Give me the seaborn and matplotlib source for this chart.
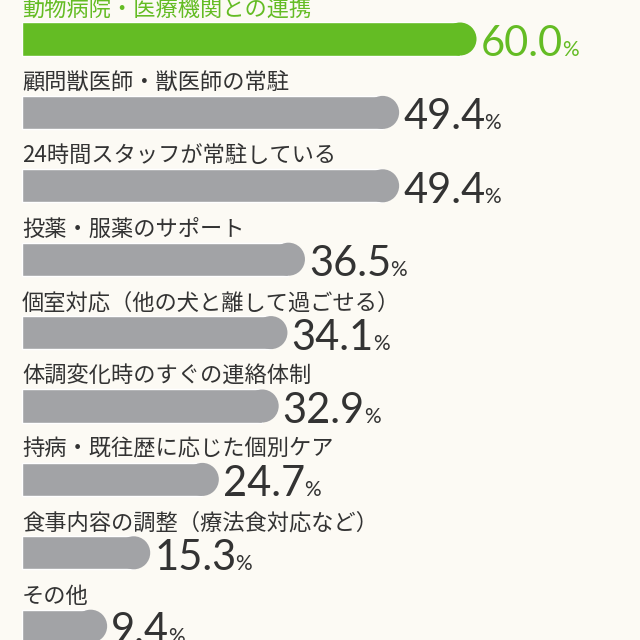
import pandas as pd
import matplotlib.pyplot as plt
import seaborn as sns
from matplotlib.patches import Ellipse

labels = [
    "動物病院・医療機関との連携",
    "顧問獣医師・獣医師の常駐",
    "24時間スタッフが常駐している",
    "投薬・服薬のサポート",
    "個室対応（他の犬と離して過ごせる）",
    "体調変化時のすぐの連絡体制",
    "持病・既往歴に応じた個別ケア",
    "食事内容の調整（療法食対応など）",
    "その他",
]
values = [60.0, 49.4, 49.4, 36.5, 34.1, 32.9, 24.7, 15.3, 9.4]

green = "#64bc24"
gray = "#a2a3a6"
dark = "#333333"
bg = "#fcfaf4"
bar_colors = [green] + [gray] * 8
text_colors = [green] + [dark] * 8

sns.set_theme(style="white")
plt.rcParams["font.family"] = ["Noto Sans CJK JP", "DejaVu Sans"]

df = pd.DataFrame({"label": labels, "value": values})

fig = plt.figure(figsize=(6.4, 6.4), dpi=100)
fig.patch.set_facecolor(bg)
ax = fig.add_axes([0, 0, 1, 1])
ax.set_facecolor(bg)

sns.barplot(data=df, x="value", y="label", hue="label", palette=bar_colors,
            orient="h", width=0.45, saturation=1, legend=False, ax=ax)

# layout in pixels -> data units
px_x = 7.3         # px per percent
left_px = 22
row_px = 73.4      # px per row
top_px = 39
ax.set_xlim(-left_px / px_x, (640 - left_px) / px_x)
ax.set_ylim((640 - top_px) / row_px, -top_px / row_px)
ax.set_axis_off()

bar_h = 0.45
rx = bar_h / 2 * row_px / px_x   # round cap radius in x units

for i, (lab, v) in enumerate(zip(labels, values)):
    # rounded right end
    ax.add_patch(Ellipse((v, i), 2 * rx, bar_h, color=bar_colors[i], lw=0))
    ax.text(0, i - 30 / row_px, lab, fontsize=16, color=text_colors[i],
            ha="left", va="center")

fig.canvas.draw()
r = fig.canvas.get_renderer()
inv = ax.transData.inverted()
for i, v in enumerate(values):
    x = v + rx + 4 / px_x
    y = i + 17 / row_px
    t = ax.text(x, y, f"{v:.1f}", fontsize=30, color=text_colors[i],
                family=["Lato", "DejaVu Sans"], ha="left", va="baseline")
    bb = t.get_window_extent(r)
    xp = inv.transform((bb.x1 - 1, 0))[0]
    ax.text(xp, y, "%", fontsize=15, color=text_colors[i],
            family=["Lato", "DejaVu Sans"], ha="left", va="baseline")

fig.savefig("out.png", dpi=100, facecolor=bg)
